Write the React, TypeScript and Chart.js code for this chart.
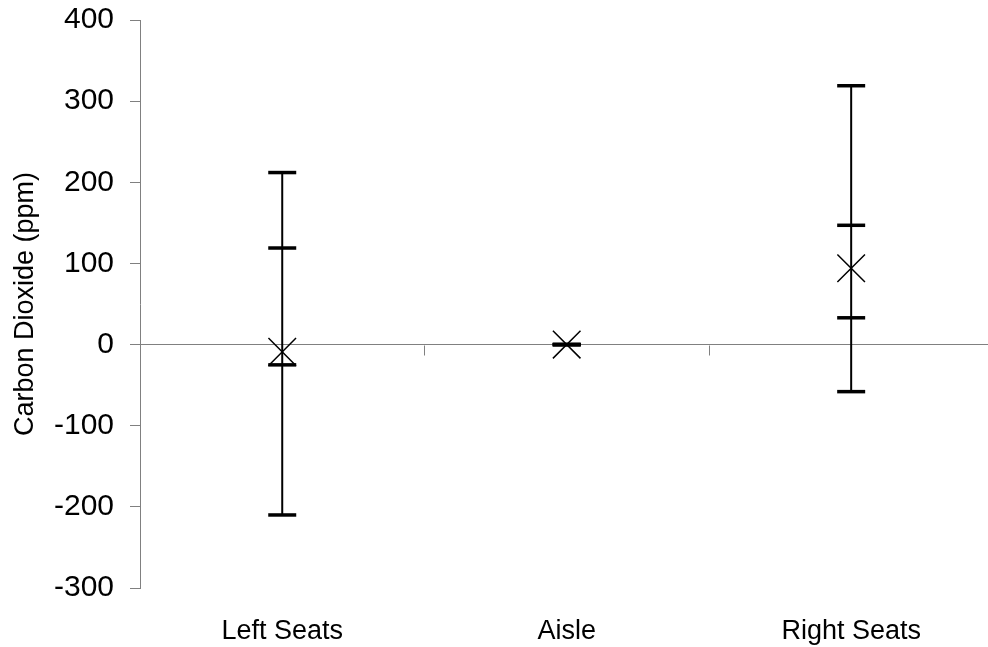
import React, { useEffect, useRef } from 'react';
import { Chart, registerables } from 'chart.js';

Chart.register(...registerables);

const categories = ['Left Seats', 'Aisle', 'Right Seats'];
const means = [-9, 0, 94];
const innerHigh = [119, 0, 147];
const innerLow = [-25, 0, 33];
const outerHigh = [212, 0, 319];
const outerLow = [-210, 0, -58];
const yTicks = [-300, -200, -100, 0, 100, 200, 300, 400];
const yTitle = 'Carbon Dioxide (ppm)';

const FONT = "'Liberation Sans', Arial, sans-serif";
const AXIS_GREY = '#808080';

const errorBarPlugin = {
  id: 'errorBars',
  beforeDatasetsDraw(chart: any) {
    const { ctx, scales } = chart;
    const x = scales.x;
    const y = scales.y;
    ctx.save();
    // category boundary tick marks on the zero line
    ctx.strokeStyle = AXIS_GREY;
    ctx.lineWidth = 1;
    const y0 = Math.round(y.getPixelForValue(0)) + 0.5;
    for (let i = 1; i < categories.length; i++) {
      const bx = Math.round(x.getPixelForValue(i + 0.5)) + 0.5;
      ctx.beginPath();
      ctx.moveTo(bx, y0);
      ctx.lineTo(bx, y0 + 10);
      ctx.stroke();
    }
    ctx.strokeStyle = '#000';
    categories.forEach((_, i) => {
      const cx = x.getPixelForValue(i + 1);
      ctx.lineWidth = 2;
      ctx.beginPath();
      ctx.moveTo(cx, y.getPixelForValue(outerHigh[i]));
      ctx.lineTo(cx, y.getPixelForValue(outerLow[i]));
      ctx.stroke();
      ctx.lineWidth = 3.5;
      [outerHigh[i], innerHigh[i], innerLow[i], outerLow[i]].forEach((v) => {
        const py = y.getPixelForValue(v);
        ctx.beginPath();
        ctx.moveTo(cx - 14, py);
        ctx.lineTo(cx + 14, py);
        ctx.stroke();
      });
    });
    ctx.restore();
  },
};

export default function App() {
  const canvasRef = useRef<HTMLCanvasElement | null>(null);

  useEffect(() => {
    document.body.style.margin = '0';
    const canvas = canvasRef.current;
    if (!canvas) return;
    const chart = new Chart(canvas, {
      type: 'scatter',
      data: {
        datasets: [
          {
            label: 'Mean',
            data: categories.map((_, i) => ({ x: i + 1, y: means[i] })),
            pointStyle: 'crossRot',
            radius: 19.5,
            hoverRadius: 19.5,
            borderColor: '#000',
            backgroundColor: '#000',
            borderWidth: 1.5,
          },
        ],
      },
      options: {
        responsive: false,
        animation: false,
        events: [],
        layout: { autoPadding: false, padding: { top: 20, right: 0, bottom: 0, left: 0 } },
        plugins: {
          legend: { display: false },
          tooltip: { enabled: false },
        },
        scales: {
          x: {
            type: 'linear',
            position: 'bottom',
            min: 0.5,
            max: 3.481,
            afterFit: (s: any) => {
              s.height = 59;
              s.paddingLeft = 0;
              s.paddingRight = 0;
            },
            afterBuildTicks: (s: any) => {
              s.ticks = categories.map((_, i) => ({ value: i + 1 }));
            },
            grid: { display: false, drawTicks: false },
            border: { display: false },
            ticks: {
              autoSkip: false,
              maxRotation: 0,
              padding: 27,
              color: '#000',
              font: { family: FONT, size: 27 },
              callback: (_v: any, index: number) => categories[index],
            },
          },
          y: {
            type: 'linear',
            min: -300,
            max: 400,
            afterFit: (s: any) => {
              s.width = 140;
              s.paddingTop = 0;
              s.paddingBottom = 0;
            },
            afterBuildTicks: (s: any) => {
              s.ticks = yTicks.map((v) => ({ value: v }));
            },
            grid: {
              color: (c: any) => (c.tick && c.tick.value === 0 ? AXIS_GREY : 'rgba(0,0,0,0)'),
              tickColor: AXIS_GREY,
              tickLength: 10,
              lineWidth: 1,
            },
            border: { display: true, color: AXIS_GREY, width: 1 },
            ticks: {
              padding: 16,
              color: '#000',
              font: { family: FONT, size: 30 },
            },
            title: {
              display: true,
              text: yTitle,
              color: '#000',
              font: { family: FONT, size: 27 },
              padding: { top: 9, bottom: 0 },
            },
          },
        },
      },
      plugins: [errorBarPlugin],
    });
    return () => chart.destroy();
  }, []);

  return (
    <div style={{ position: 'absolute', left: 0, top: 0, width: 988, height: 647, background: '#fff' }}>
      <canvas ref={canvasRef} width={988} height={647} />
    </div>
  );
}
